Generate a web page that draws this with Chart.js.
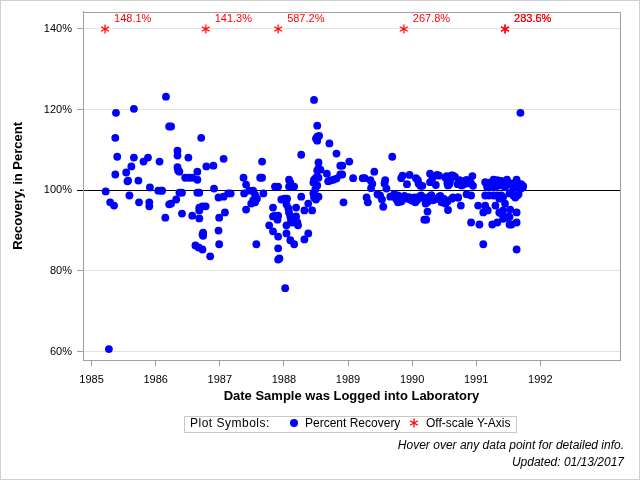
<!DOCTYPE html>
<html><head><meta charset="utf-8">
<script src="https://cdn.jsdelivr.net/npm/chart.js@4.4.1/dist/chart.umd.min.js"></script>
<style>
html,body{margin:0;padding:0;background:#fff;}
#wrap{position:relative;width:640px;height:480px;font-family:"Liberation Sans",Arial,sans-serif;overflow:hidden;}
#wrap canvas#c{position:absolute;left:0;top:0;}
.box{position:absolute;left:184px;top:416px;width:331px;height:15px;border:1px solid #c8c8c8;}
.t{position:absolute;font-size:12px;color:#000;white-space:nowrap;line-height:14px;}
.dot{position:absolute;width:8px;height:8px;border-radius:50%;background:#0000ff;}
.foot{position:absolute;right:16px;font-size:12px;font-style:italic;color:#000;white-space:nowrap;line-height:14px;text-align:right;}
</style></head>
<body>
<div id="wrap">
<canvas id="c" width="640" height="480"></canvas>
<div class="box"></div>
<div class="t" style="left:190px;top:416px;letter-spacing:0.5px">Plot Symbols:</div>
<div class="dot" style="left:290px;top:419px"></div>
<div class="t" style="left:305px;top:416px">Percent Recovery</div>
<svg style="position:absolute;left:409px;top:418px" width="10" height="10" viewBox="0 0 10 10">
<g stroke="#ff0000" stroke-width="1.3"><line x1="5" y1="0.5" x2="5" y2="9.5"/><line x1="1.1" y1="2.75" x2="8.9" y2="7.25"/><line x1="1.1" y1="7.25" x2="8.9" y2="2.75"/></g></svg>
<div class="t" style="left:426px;top:416px">Off-scale Y-Axis</div>
<div class="foot" style="top:438px">Hover over any data point for detailed info.</div>
<div class="foot" style="top:455px">Updated: 01/13/2017</div>
</div>
<script>
const recDates = [
1985.22,1985.29,1985.35,1985.38,1985.37,1985.40,1985.37,1985.27,1985.66,1985.66,
1985.62,1985.54,1985.57,1985.56,1985.73,1985.59,1985.74,1985.81,1985.88,1985.91,
1985.90,1985.90,1986.06,1986.04,1986.09,1986.10,1986.16,1986.21,1986.24,1986.15,
1986.21,1986.24,1986.32,1986.34,1986.34,1986.34,1986.35,1986.37,1986.46,1986.52,
1986.57,1986.51,1986.65,1986.65,1986.71,1986.79,1986.90,1986.37,1986.41,1986.65,
1986.68,1986.41,1986.57,1986.68,1986.68,1986.73,1986.78,1986.68,1986.74,1986.74,
1986.73,1986.62,1986.67,1986.73,1986.85,1986.91,
1987.06,1986.98,1987.06,1987.13,1987.17,1987.08,1986.99,1986.98,1986.99,1987.37,
1987.41,1987.38,1987.46,1987.41,1987.52,1987.55,1987.58,1987.55,1987.49,1987.52,
1987.66,1987.63,1987.66,1987.68,1987.57,1987.86,1987.91,1987.83,1987.83,1987.86,
1987.91,1987.90,1987.77,1987.83,1987.91,1987.91,1987.91,1987.93,1988.02,1987.96,
1988.01,1988.05,1988.04,1988.07,1988.08,1988.10,1988.11,1988.04,1988.04,1988.10,
1988.16,1988.08,1988.10,1988.08,1988.13,1988.16,1988.19,1988.19,1988.21,1988.22,
1988.13,1988.27,1988.27,1988.32,1988.38,1988.38,1988.32,1988.44,1988.47,1988.52,
1988.52,1988.55,1988.52,1988.50,1988.54,1988.54,1988.57,1988.52,1988.50,1988.47,
1988.46,1988.54,1988.52,1988.49,1988.46,1988.47,1988.50,1988.54,1988.71,1988.67,
1988.69,1988.72,1988.77,1988.82,1988.82,1988.88,1988.91,1988.88,1988.91,1988.93,
1989.02,1989.08,1989.23,1989.26,1989.29,1989.31,1989.35,1989.38,1989.36,1989.41,
1989.46,1989.50,1989.53,1989.55,1989.58,1989.57,1989.60,1989.69,1989.66,1989.72,
1989.78,1989.78,1989.83,1989.85,1989.83,1989.92,1989.96,1989.90,1989.97,1990.03,
1990.05,1990.11,1990.14,1990.06,1990.10,1990.13,1990.16,1990.09,1990.19,1990.21,
1990.24,1990.25,1990.27,1990.24,1990.22,1990.19,1990.28,1990.28,1990.32,1990.37,
1990.39,1990.42,1990.32,1990.35,1990.39,1990.42,1990.46,1990.49,1990.52,1990.55,
1990.56,1990.52,1990.55,1990.58,1990.61,1990.64,1990.67,1990.71,1990.74,1990.77,
1990.80,1990.86,1990.85,1990.94,1990.95,1990.92,1990.64,1990.72,1990.76,1990.85,
1990.92,1990.92,1991.05,1991.03,1991.14,1991.11,1991.18,1991.15,1991.11,1991.14,
1991.17,1991.14,1991.20,1991.17,1991.21,1991.24,1991.27,1991.28,1991.30,1991.33,
1991.36,1991.39,1991.42,1991.45,1991.48,1991.52,1991.56,1991.58,1991.63,1991.65,
1991.70,1991.73,1991.27,1991.30,1991.33,1991.36,1991.39,1991.42,1991.45,1991.52,
1991.55,1991.58,1991.61,1991.64,1991.66,1991.25,1991.33,1991.36,1991.42,1991.39,
1991.45,1991.42,1991.52,1991.53,1991.49,1991.63,1991.52,1991.55,1991.63,1991.63,
1991.69,1991.73,1991.70,
1990.54,1990.62,1990.59,1990.56,1990.84,1990.88,1990.54,1990.62,1990.71,1989.75,
1989.88,1989.95,1990.00,1990.08,1990.17,1990.30,1990.44,1991.67
];
const recValues = [
99.7,97.0,96.2,119.2,113.0,108.3,103.9,60.6,120.2,108.1,
105.9,104.4,102.4,102.2,102.4,98.7,97.0,107.1,108.1,100.7,
97.0,96.0,107.1,99.9,99.9,99.9,123.2,115.8,115.8,93.2,
96.5,96.7,97.7,109.8,108.6,105.7,104.9,104.6,103.1,103.1,
103.1,108.1,104.6,102.6,113.0,105.9,106.1,99.4,99.4,99.4,
99.4,94.2,93.7,95.7,95.0,96.0,96.0,93.0,89.5,88.7,
89.0,86.3,85.8,85.3,83.6,100.4,
107.8,98.2,98.4,99.2,99.2,94.5,93.2,90.0,86.6,103.1,
101.4,99.2,99.9,95.2,99.9,98.9,97.9,97.0,96.7,97.5,
107.1,103.1,103.1,99.2,86.6,100.9,100.9,95.7,93.5,93.7,
93.7,92.7,91.3,89.8,88.5,85.6,82.8,83.1,75.7,97.7,
97.9,97.9,96.5,95.5,94.5,93.5,92.5,91.3,89.3,87.6,
86.6,102.6,101.9,100.9,100.9,100.9,95.7,93.5,92.0,91.3,
92.0,108.8,98.4,95.0,96.7,89.3,87.8,95.0,122.4,116.0,
113.3,113.5,112.3,112.8,106.9,105.4,105.1,104.9,103.1,102.6,
101.9,103.1,101.2,100.2,99.2,98.2,97.7,98.4,111.6,104.1,
102.2,102.4,102.6,102.9,109.1,106.1,106.1,103.9,103.9,97.0,
107.1,103.0,103.0,103.0,98.2,97.0,102.5,101.6,100.5,104.6,
99.0,98.7,97.7,95.9,102.5,101.7,100.4,108.3,98.4,99.0,
98.7,97.0,97.2,103.6,103.0,101.5,103.8,97.9,97.7,98.2,
97.0,98.4,98.7,103.0,101.7,101.1,101.1,102.5,97.9,96.7,
97.1,97.7,98.4,94.7,92.7,92.7,104.1,102.0,103.1,101.3,
103.8,103.6,97.5,97.7,97.9,98.4,97.0,97.9,96.7,97.2,
95.1,103.1,101.7,101.5,103.6,103.6,103.3,101.5,102.5,101.2,
101.4,102.5,101.7,103.5,101.1,101.7,98.2,98.2,96.2,99.0,
98.7,92.0,91.5,96.2,96.2,94.5,95.0,95.5,86.6,102.0,
100.8,98.7,98.7,101.5,101.9,100.8,102.6,101.5,100.8,102.5,
101.2,102.3,101.2,100.8,102.6,101.5,101.7,100.8,102.6,101.7,
101.5,100.8,98.7,96.2,98.7,97.9,98.7,98.3,96.7,99.2,
99.5,98.7,98.2,98.7,99.0,91.5,92.0,94.5,95.0,94.2,
93.2,92.9,93.4,95.2,93.4,94.5,91.5,91.5,92.0,85.3,
119.2,101.1,100.4,
103.5,103.7,102.1,101.2,102.5,102.1,97.5,97.9,98.2,97.8,
98.6,98.3,97.4,97.6,98.3,98.8,98.6,100.6
];
const offDates = [1985.21, 1986.78, 1987.91, 1989.87, 1991.45, 1991.45];
const offValues = [148.1, 141.3, 587.2, 267.8, 283.6, 233.5];
const offPlotLevel = 140;
const xTickValues = [1985, 1986, 1987, 1988, 1989, 1990, 1991, 1992];
const yTickValues = [60, 80, 100, 120, 140];
const xMin = 1984.866, xMax = 1993.243;
const yMin = 57.9, yMax = 144.3;
const refValue = 100;

const FAM = '"Liberation Sans", Arial, sans-serif';

function makeAsterisk(size, color) {
  const c = document.createElement('canvas');
  c.width = size; c.height = size;
  const g = c.getContext('2d');
  g.strokeStyle = color; g.lineWidth = 1.3;
  const cx = size / 2, cy = size / 2, r = size / 2 - 0.5;
  for (let k = 0; k < 3; k++) {
    const a = Math.PI / 2 + k * Math.PI / 3;
    g.beginPath();
    g.moveTo(cx + r * Math.cos(a), cy + r * Math.sin(a));
    g.lineTo(cx - r * Math.cos(a), cy - r * Math.sin(a));
    g.stroke();
  }
  return c;
}

const recData = recDates.map((d, i) => ({ x: d, y: recValues[i] }));
const offData = offDates.map(d => ({ x: d, y: offPlotLevel }));

const framePlugin = {
  id: 'frame',
  beforeDraw(chart) {
    const ctx = chart.ctx;
    ctx.save(); ctx.fillStyle = '#fff'; ctx.fillRect(0, 0, chart.width, chart.height); ctx.restore();
  },
  afterDraw(chart) {
    const ctx = chart.ctx, a = chart.chartArea;
    ctx.save();
    ctx.strokeStyle = '#a0a0a0'; ctx.lineWidth = 1;
    ctx.beginPath();
    ctx.moveTo(Math.round(a.left) + 0.5, Math.round(a.top) + 0.5);
    ctx.lineTo(Math.round(a.right) + 0.5, Math.round(a.top) + 0.5);
    ctx.lineTo(Math.round(a.right) + 0.5, Math.round(a.bottom) + 0.5);
    ctx.stroke();
    ctx.strokeStyle = '#d0d0d0';
    ctx.strokeRect(0.5, 0.5, chart.width - 1, chart.height - 1);
    ctx.restore();
  }
};

const offLabelPlugin = {
  id: 'offLabels',
  afterDatasetsDraw(chart) {
    const meta = chart.getDatasetMeta(1);
    const ctx = chart.ctx;
    ctx.save();
    ctx.fillStyle = '#ff0000';
    ctx.font = '11px ' + FAM;
    ctx.textBaseline = 'middle';
    ctx.textAlign = 'left';
    meta.data.forEach((pt, i) => {
      ctx.fillText(offValues[i].toFixed(1) + '%', pt.x + 9, pt.y - 10);
    });
    ctx.restore();
  }
};

new Chart(document.getElementById('c'), {
  type: 'scatter',
  data: {
    datasets: [
      { label: 'Percent Recovery', data: recData, backgroundColor: '#0000ff', borderWidth: 0,
        pointRadius: 3.9, pointHoverRadius: 4.5 },
      { label: 'Off-scale Y-Axis', data: offData, pointStyle: makeAsterisk(10, '#ff0000'),
        pointRadius: 5, borderWidth: 0 }
    ]
  },
  options: {
    responsive: false,
    animation: false,
    devicePixelRatio: 1,
    layout: { padding: { left: 0, top: 11, right: 20, bottom: 76 } },
    plugins: { legend: { display: false }, tooltip: { enabled: true } },
    scales: {
      x: {
        type: 'linear', min: xMin, max: xMax,
        afterBuildTicks: s => { s.ticks = xTickValues.map(v => ({ value: v })); },
        afterFit: s => { s.height = 44; },
        grid: { drawOnChartArea: false, drawTicks: true, tickLength: 6, tickColor: '#a0a0a0' },
        border: { color: '#a0a0a0' },
        ticks: { padding: 7, color: '#000', font: { size: 11, family: FAM }, maxRotation: 0, autoSkip: false,
          callback: v => String(v) },
        title: { display: true, text: 'Date Sample was Logged into Laboratory', color: '#000',
          font: { size: 13, weight: 'bold', family: FAM, lineHeight: 1.2 }, padding: { top: 0, bottom: 0 } }
      },
      y: {
        type: 'linear', min: yMin, max: yMax,
        afterBuildTicks: s => { s.ticks = yTickValues.map(v => ({ value: v })); },
        afterFit: s => { s.width = 83; },
        grid: {
          color: ctx => (ctx.tick && ctx.tick.value === refValue) ? '#000000' : '#e2e2e2',
          tickColor: ctx => (ctx.tick && ctx.tick.value === refValue) ? '#000000' : '#a0a0a0',
          tickLength: 6, lineWidth: 1
        },
        border: { color: '#a0a0a0' },
        ticks: { padding: 5, color: '#000', font: { size: 11, family: FAM }, callback: v => v + '%' },
        title: { display: true, text: 'Recovery, in Percent', color: '#000',
          font: { size: 13, weight: 'bold', family: FAM, lineHeight: 1.2 }, padding: { top: 11, bottom: 0 } }
      }
    }
  },
  plugins: [framePlugin, offLabelPlugin]
});
</script>
</body></html>
